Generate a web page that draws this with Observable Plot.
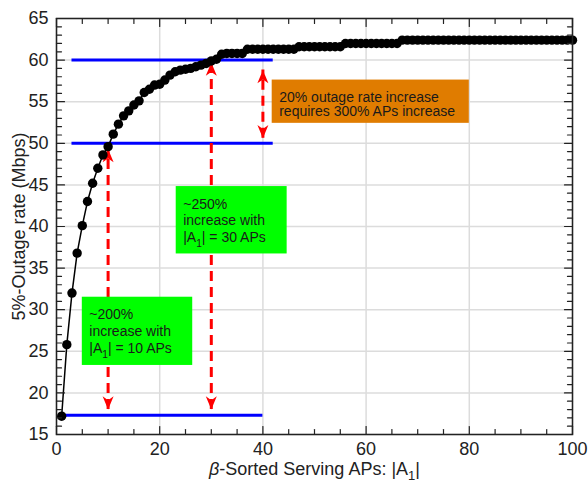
<!DOCTYPE html>
<html>
<head>
<meta charset="utf-8">
<script src="https://cdn.jsdelivr.net/npm/d3@7"></script>
<script src="https://cdn.jsdelivr.net/npm/@observablehq/plot@0.6"></script>
<style>
  html, body { margin: 0; padding: 0; background: #fff; }
  svg { display: block; }
</style>
</head>
<body>
<div id="chart"></div>
<script>
// ---- data ----
const servingAPs = d3.range(1, 101);
const outageRate = [
  17.2, 25.8, 32.0, 36.8, 40.1, 43.0, 45.2, 47.0, 48.6, 49.6,
  51.1, 52.3, 53.3, 53.9, 54.6, 55.1, 56.1, 56.5, 57.0, 57.1,
  57.6, 58.2, 58.6, 58.8, 58.9, 59.0, 59.2, 59.4, 59.6, 59.9,
  60.1, 60.7, 60.8, 60.8, 60.8, 60.8, 61.3, 61.3, 61.3, 61.3,
  61.3, 61.3, 61.3, 61.3, 61.3, 61.3, 61.6, 61.6, 61.6, 61.6,
  61.6, 61.6, 61.6, 61.6, 61.6, 62.0, 62.0, 62.0, 62.0, 62.0,
  62.0, 62.0, 62.0, 62.0, 62.0, 62.0, 62.4, 62.4, 62.4, 62.4,
  62.4, 62.4, 62.4, 62.4, 62.4, 62.4, 62.4, 62.4, 62.4, 62.4,
  62.4, 62.4, 62.4, 62.4, 62.4, 62.4, 62.4, 62.4, 62.4, 62.4,
  62.4, 62.4, 62.4, 62.4, 62.4, 62.4, 62.4, 62.4, 62.4, 62.4
];
const xTickLabels = [0, 20, 40, 60, 80, 100];
const yTickLabels = [15, 20, 25, 30, 35, 40, 45, 50, 55, 60, 65];
const xMinorTicks = [5, 10, 15, 25, 30, 35, 45, 50, 55, 65, 70, 75, 85, 90, 95];
const yMinorTicks = [16,17,18,19,21,22,23,24,26,27,28,29,31,32,33,34,36,37,38,39,41,42,43,44,46,47,48,49,51,52,53,54,56,57,58,59,61,62,63,64];
const xLabel = "β-Sorted Serving APs: |A_1|";
const yLabel = "5%-Outage rate (Mbps)";

// annotations (data coordinates)
const refLevels = [
  {level: 60, from: 3, to: 42},
  {level: 50, from: 3, to: 42},
  {level: 17.3, from: 1, to: 40}
];
const arrowSpans = [
  {at: 10, low: 18.0, high: 49.3},
  {at: 30, low: 18.0, high: 59.7},
  {at: 40, low: 50.6, high: 58.8}
];
const noteOrange = [
  {x1: 41.8, x2: 80, y1: 52.4, y2: 57.6, text: "20% outage rate increase\nrequires 300% APs increase"}
];
const noteGreen = [
  {x1: 23.2, x2: 44.7, y1: 36.7, y2: 44.8, text: "~250%\nincrease with\n|A_1| = 30 APs"},
  {x1: 5.0, x2: 26.4, y1: 23.3, y2: 31.5, text: "~200%\nincrease with\n|A_1| = 10 APs"}
];

const series = servingAPs.map((x, i) => ({x, y: outageRate[i]}));
const arrowHeads = arrowSpans.flatMap(a => [
  {x: a.at, y: a.high, dir: 0},
  {x: a.at, y: a.low, dir: 180}
]);

// ---- shapes ----
const tickShape = {draw(ctx, l) { ctx.moveTo(0, 0); ctx.lineTo(0, -l); }};
const headSymbol = {draw(ctx, size) {
  const s = Math.sqrt(size / Math.PI);
  ctx.moveTo(0, 0);
  ctx.lineTo(-s, s * 2.4);
  ctx.lineTo(0, s * 1.7);
  ctx.lineTo(s, s * 2.4);
  ctx.closePath();
}};

const ink = "#222";
const tickMarks = (vals, len, axis) => {
  if (axis === "x") return [
    Plot.vector(vals, {x: d => d, y: 15, length: len, rotate: 0, anchor: "start", shape: tickShape, stroke: ink, strokeWidth: 1.2}),
    Plot.vector(vals, {x: d => d, y: 65, length: len, rotate: 180, anchor: "start", shape: tickShape, stroke: ink, strokeWidth: 1.2})
  ];
  return [
    Plot.vector(vals, {x: 0, y: d => d, length: len, rotate: 90, anchor: "start", shape: tickShape, stroke: ink, strokeWidth: 1.2}),
    Plot.vector(vals, {x: 100, y: d => d, length: len, rotate: -90, anchor: "start", shape: tickShape, stroke: ink, strokeWidth: 1.2})
  ];
};

const chart = Plot.plot({
  width: 588,
  height: 484,
  marginLeft: 56,
  marginRight: 16,
  marginTop: 18,
  marginBottom: 50,
  style: {fontFamily: "'Liberation Sans', Arial, sans-serif", fontSize: "18px", color: ink, background: "#fff"},
  x: {domain: [0, 100]},
  y: {domain: [15, 65]},
  marks: [
    Plot.ruleX(xTickLabels, {stroke: "#dcdcdc", strokeWidth: 1.5}),
    Plot.ruleY(yTickLabels, {stroke: "#dcdcdc", strokeWidth: 1.5}),
    Plot.ruleY(refLevels, {y: "level", x1: "from", x2: "to", stroke: "#0000ff", strokeWidth: 3}),
    Plot.ruleX(arrowSpans, {x: "at", y1: "low", y2: "high", stroke: "#ff0000", strokeWidth: 3, strokeDasharray: "10,6"}),
    Plot.dot(arrowHeads, {x: "x", y: "y", rotate: "dir", symbol: headSymbol, r: 5.5, fill: "#ff0000", stroke: "none"}),
    Plot.rect(noteOrange, {x1: "x1", x2: "x2", y1: "y1", y2: "y2", fill: "#e07c00"}),
    Plot.rect(noteGreen, {x1: "x1", x2: "x2", y1: "y1", y2: "y2", fill: "#00ff00"}),
    Plot.text(noteOrange, {x: "x1", y: "y2", text: "text", textAnchor: "start", lineAnchor: "top", dx: 7, dy: 11, fontSize: 14, lineHeight: 1.05, fill: "#1a1a1a"}),
    Plot.text(noteGreen, {x: "x1", y: "y2", text: "text", textAnchor: "start", lineAnchor: "top", dx: 7, dy: 10, fontSize: 14, lineHeight: 1.2, fill: "#1a1a1a"}),
    Plot.line(series, {x: "x", y: "y", stroke: "#000", strokeWidth: 1.5}),
    Plot.dot(series, {x: "x", y: "y", r: 4.7, fill: "#000", stroke: "none"}),
    ...tickMarks(xMinorTicks, 5, "x"),
    ...tickMarks(xTickLabels, 8, "x"),
    ...tickMarks(yMinorTicks, 5, "y"),
    ...tickMarks(yTickLabels, 8, "y"),
    Plot.frame({stroke: ink, strokeWidth: 1.5}),
    Plot.axisX(xTickLabels, {tickSize: 0, tickPadding: 8, label: null, fontSize: 18}),
    Plot.axisY(yTickLabels, {tickSize: 0, tickPadding: 8, label: null, fontSize: 18}),
    Plot.text([xLabel], {frameAnchor: "bottom", lineAnchor: "middle", textAnchor: "middle", dy: 35, fontSize: 18, fill: ink}),
    Plot.text([yLabel], {frameAnchor: "left", lineAnchor: "middle", textAnchor: "middle", rotate: -90, dx: -37, fontSize: 18, fill: ink})
  ]
});

document.getElementById("chart").appendChild(chart);

// rich text: italic beta and subscript 1
(function richText(svg) {
  const ns = "http://www.w3.org/2000/svg";
  svg.querySelectorAll("text, tspan").forEach(el => {
    if (el.children.length) return;
    const s = el.textContent;
    if (!s.includes("_1") && !s.includes("β")) return;
    const fs = parseFloat(getComputedStyle(el).fontSize) || 14;
    const shift = fs >= 16 ? 0.28 : 0.38;
    el.textContent = "";
    let shifted = false;
    for (const p of s.split(/(β|_1)/)) {
      if (!p) continue;
      const t = document.createElementNS(ns, "tspan");
      if (p === "β") {
        t.setAttribute("font-style", "italic");
        t.textContent = p;
      } else if (p === "_1") {
        t.setAttribute("font-size", (fs * 0.72).toFixed(1));
        t.setAttribute("dy", (fs * shift).toFixed(1));
        t.textContent = "1";
        shifted = true;
      } else {
        if (shifted) { t.setAttribute("dy", (-fs * shift).toFixed(1)); shifted = false; }
        t.textContent = p;
      }
      el.appendChild(t);
    }
  });
})(chart);
</script>
</body>
</html>
